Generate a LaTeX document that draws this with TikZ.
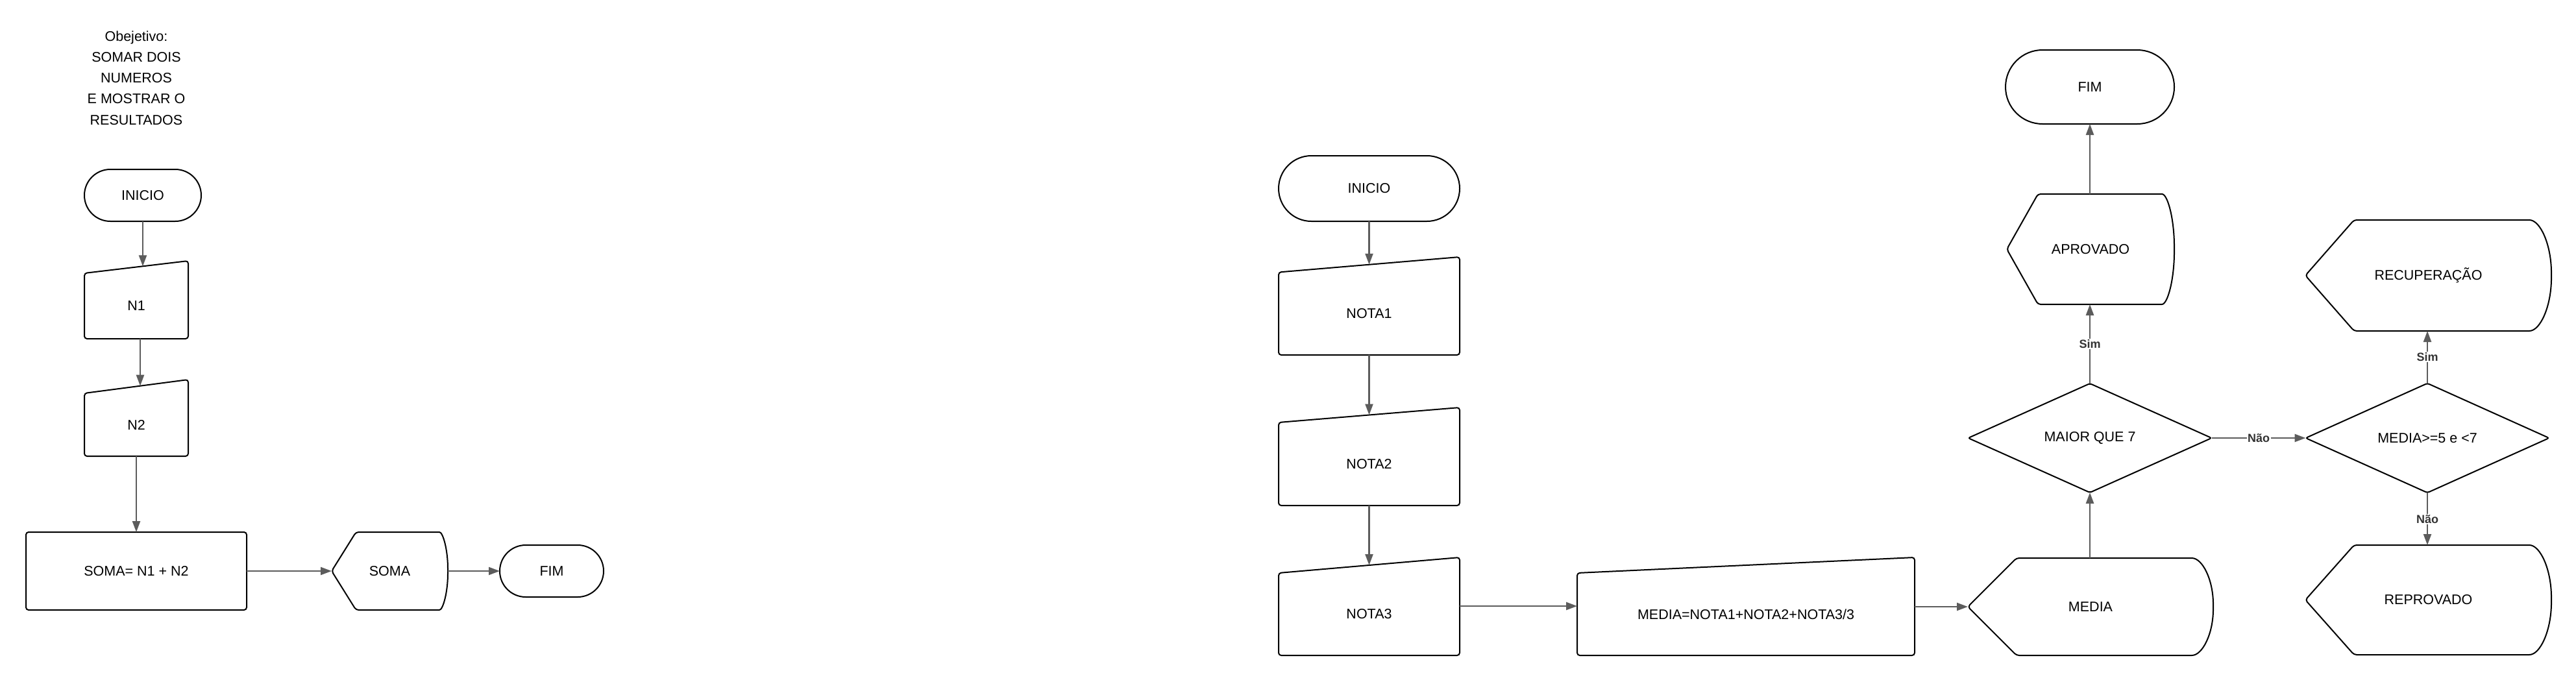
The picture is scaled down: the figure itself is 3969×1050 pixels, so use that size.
\documentclass[tikz,border=0pt]{standalone}
\usepackage{fontspec}
\setmainfont{Liberation Sans}
\usetikzlibrary{arrows.meta,shapes.geometric,calc}
\definecolor{arrgray}{RGB}{92,92,92}
\definecolor{lblgray}{RGB}{51,51,51}
\newcommand\maninpath[2]{\draw[shapeline] (#1.south west) -- (#1.north west) -- ($(#1.north east)+(0,-#2)$) -- (#1.south east) -- cycle;}
\newcommand\disppath[4]{%
  \draw[shapeline] (#1.west) -- ($(#1.north west)+(#2,0)$) -- ($(#1.north east)+(-#3,0)$)
   .. controls ($(#1.north east)+({-#3+0.5523*#3},0)$) and ($(#1.east)+(0,{-0.5523*#4})$) .. (#1.east)
   .. controls ($(#1.east)+(0,{0.5523*#4})$) and ($(#1.south east)+({-#3+0.5523*#3},0)$) .. ($(#1.south east)+(-#3,0)$)
   -- ($(#1.south west)+(#2,0)$) -- cycle;}
\begin{document}
\begin{tikzpicture}[x=1pt,y=-1pt,
  every node/.style={font=\fontsize{21.5}{32.3}\selectfont, inner sep=0pt, outer sep=0pt},
  shapeline/.style={draw=black, line width=2pt, rounded corners=4pt, line join=round},
  termbox/.style n args={3}{draw=black, line width=2pt, minimum width=#1pt, minimum height=#2pt, rounded corners=#3pt},
  procbox/.style n args={2}{draw=black, line width=2pt, minimum width=#1pt, minimum height=#2pt, rounded corners=4pt},
  plainbox/.style n args={2}{minimum width=#1pt, minimum height=#2pt},
  decbox/.style={shape=diamond, draw=black, line width=2pt, minimum width=375pt, minimum height=168pt, rounded corners=3pt},
  arr/.style={draw=arrgray, line width=2.4pt, -{Triangle[length=17pt,width=12pt]}},
  lbl/.style={fill=white, text=lblgray, inner sep=1.5pt, font=\fontsize{18}{18}\selectfont\bfseries}
]
\fill[white] (0,0) rectangle (3969,1050);
\useasboundingbox (0,0) rectangle (3969,1050);

% ---------- left chart ----------
\node[align=center] (obj) at (210,120) {Obejetivo:\\SOMAR DOIS\\NUMEROS\\E MOSTRAR O\\RESULTADOS};
\node[termbox={180}{80}{40}] (ini1) at (220,301) {INICIO};
\node[plainbox={160}{101}] (n1) at (210,471.5) {N1};
\maninpath{n1}{19}
\node[plainbox={160}{97}] (n2) at (210,654.5) {N2};
\maninpath{n2}{21}
\node[procbox={340}{120}] (soma1) at (210,880) {SOMA= N1 + N2};
\node[plainbox={179}{120}] (somad) at (600.5,880) {SOMA};
\disppath{somad}{37.5}{17}{60}
\node[termbox={160}{80}{40}] (fim1) at (850,880) {FIM};

\draw[arr] (ini1.south) -- ($(n1.north)+(10,-10.7)$);
\draw[arr] ($(n1.south)+(6,0)$) -- ($(n2.north)+(6,-11.3)$);
\draw[arr] (n2.south) -- (soma1.north);
\draw[arr] (soma1.east) -- (somad.west);
\draw[arr] (somad.east) -- (fim1.west);

% ---------- right chart ----------
\node[termbox={279}{101}{50.5}] (ini2) at (2109.5,290.5) {INICIO};
\node[plainbox={279}{127.5}] (nota1) at (2109.5,483.25) {NOTA1};
\maninpath{nota1}{23.5}
\node[plainbox={279}{128}] (nota2) at (2109.5,715) {NOTA2};
\maninpath{nota2}{23}
\node[plainbox={279}{127}] (nota3) at (2109.5,946.5) {NOTA3};
\maninpath{nota3}{24}
\node[plainbox={520}{127}] (media1) at (2690,946.5) {MEDIA=NOTA1+NOTA2+NOTA3/3};
\maninpath{media1}{24}
\node[plainbox={378}{150}] (media2) at (3221,935) {MEDIA};
\disppath{media2}{75}{37}{75}
\node[decbox] (d1) at (3220,675) {MAIOR QUE 7};
\node[plainbox={258}{170}] (aprov) at (3221,384) {APROVADO};
\disppath{aprov}{48}{23}{85}
\node[termbox={260}{114}{57}] (fim2) at (3220,134) {FIM};
\node[decbox] (d2) at (3740,675) {MEDIA>=5 e <7};
\node[plainbox={379}{171}] (recup) at (3741.5,424.5) {RECUPERAÇÃO};
\disppath{recup}{75}{38}{85.5}
\node[plainbox={379}{169}] (reprov) at (3741.5,924.5) {REPROVADO};
\disppath{reprov}{75}{38}{84.5}

\draw[arr] (ini2.south) -- ($(nota1.north)+(0,-11.75)$);
\draw[arr] (nota1.south) -- ($(nota2.north)+(0,-11.5)$);
\draw[arr] (nota2.south) -- ($(nota3.north)+(0,-12)$);
\draw[arr] ($(nota3.east)+(0,-12.5)$) -- ($(media1.west)+(0,-12.5)$);
\draw[arr] (media1.east |- media2.west) -- (media2.west);
\draw[arr] (d1.south |- media2.north) -- (d1.south);
\draw[arr] (d1.north) -- (d1.north |- aprov.south) node[midway, lbl] (lsim1) {Sim};
\draw[arr] (fim2.south |- aprov.north) -- (fim2.south);
\draw[arr] (d1.east) -- (d2.west) node[midway, lbl] (lnao1) {Não};
\draw[arr] (d2.north) -- (d2.north |- recup.south) node[midway, lbl] (lsim2) {Sim};
\draw[arr] (d2.south) -- (d2.south |- reprov.north) node[midway, lbl] (lnao2) {Não};
\end{tikzpicture}
\end{document}
